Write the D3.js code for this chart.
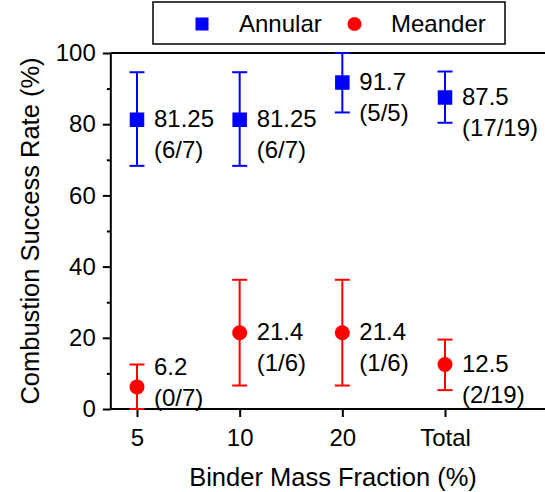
<!DOCTYPE html>
<html>
<head>
<meta charset="utf-8">
<script src="https://cdn.jsdelivr.net/npm/d3@7/dist/d3.min.js"></script>
<style>
  body { margin: 0; background: #fff; }
  text { font-family: "Liberation Sans", Arial, sans-serif; fill: #000; }
</style>
</head>
<body>
<div id="chart"></div>
<script>
// categories on the x axis
var categories = ["5", "10", "20", "Total"];

// annular series: rate, error bar ends, counts
var annularRate = [81.25, 81.25, 91.7, 87.5];
var annularLow = [68.3, 68.3, 83.3, 80.4];
var annularHigh = [94.6, 94.6, 100, 94.8];
var annularCounts = ["(6/7)", "(6/7)", "(5/5)", "(17/19)"];

// meander series
var meanderRate = [6.2, 21.4, 21.4, 12.5];
var meanderLow = [0, 6.6, 6.6, 5.3];
var meanderHigh = [12.5, 36.3, 36.3, 19.5];
var meanderCounts = ["(0/7)", "(1/6)", "(1/6)", "(2/19)"];

var yTicks = [0, 20, 40, 60, 80, 100];
var yMinor = [10, 30, 50, 70, 90];

var width = 545, height = 492;
var blue = "#0000ff", red = "#ff0000";
var small = "24px", big = "25.5px";

var svg = d3.select("#chart").append("svg")
  .attr("width", width)
  .attr("height", height);

// category index 1..4, axis runs on past the window on the right
var x0 = 0.745, x1 = 5.1;
var x = d3.scaleLinear().domain([1, 4]).range([137, 445]);
var y = d3.scaleLinear().domain([0, 100]).range([409, 53]);

// frame: top line
svg.append("line")
  .attr("x1", x(x0)).attr("x2", x(x1))
  .attr("y1", y(100)).attr("y2", y(100))
  .attr("stroke", "#000").attr("stroke-width", 2);

// y axis
var yAxis = svg.append("g")
  .attr("transform", "translate(" + x(x0) + ",0)")
  .call(d3.axisLeft(y).tickValues(yTicks).tickSize(8).tickPadding(7).tickFormat(d3.format("d")));
svg.append("g")
  .attr("transform", "translate(" + x(x0) + ",0)")
  .call(d3.axisLeft(y).tickValues(yMinor).tickSize(4).tickFormat(""))
  .select(".domain").remove();

// x axis
var xAxis = svg.append("g")
  .attr("transform", "translate(0," + y(0) + ")")
  .call(d3.axisBottom(x).tickValues([1, 2, 3, 4]).tickSize(8).tickPadding(12)
    .tickFormat(function(d) { return categories[d - 1]; }));

svg.selectAll(".tick line").attr("stroke-width", 2);
svg.selectAll(".domain").attr("stroke-width", 2);
yAxis.select(".domain").attr("d", "M0," + y(0) + "V" + y(100));
xAxis.select(".domain").attr("d", "M" + x(x0) + ",0H" + x(x1));
svg.selectAll(".tick text").style("font-size", small).attr("font-family", null);

// axis titles
svg.append("text")
  .attr("x", 333).attr("y", 486)
  .attr("text-anchor", "middle")
  .style("font-size", big)
  .text("Binder Mass Fraction (%)");

svg.append("text")
  .attr("transform", "translate(39," + ((y(0) + y(100)) / 2) + ") rotate(-90)")
  .attr("text-anchor", "middle")
  .style("font-size", big)
  .text("Combustion Success Rate (%)");

function drawSeries(rate, low, high, counts, color, shape, shift) {
  var g = svg.append("g");
  var pts = rate.map(function(v, i) {
    return {i: i + 1, v: v, lo: low[i], hi: high[i], c: counts[i], s: shift[i]};
  });
  // error bars
  var eb = g.selectAll("g.err").data(pts).enter().append("g")
    .attr("stroke", color).attr("stroke-width", 2);
  eb.append("line")
    .attr("x1", function(d) { return x(d.i); }).attr("x2", function(d) { return x(d.i); })
    .attr("y1", function(d) { return y(d.lo); }).attr("y2", function(d) { return y(d.hi); });
  eb.append("line")
    .attr("x1", function(d) { return x(d.i) - 7.5; }).attr("x2", function(d) { return x(d.i) + 7.5; })
    .attr("y1", function(d) { return y(d.lo); }).attr("y2", function(d) { return y(d.lo); });
  eb.append("line")
    .attr("x1", function(d) { return x(d.i) - 7.5; }).attr("x2", function(d) { return x(d.i) + 7.5; })
    .attr("y1", function(d) { return y(d.hi); }).attr("y2", function(d) { return y(d.hi); });
  // markers
  if (shape === "square") {
    g.selectAll("rect").data(pts).enter().append("rect")
      .attr("x", function(d) { return x(d.i) - 7.25; })
      .attr("y", function(d) { return y(d.v) - 7.25; })
      .attr("width", 14.5).attr("height", 14.5)
      .attr("fill", color);
  } else {
    g.selectAll("circle").data(pts).enter().append("circle")
      .attr("cx", function(d) { return x(d.i); })
      .attr("cy", function(d) { return y(d.v); })
      .attr("r", 7.5)
      .attr("fill", color);
  }
  // value labels
  var t = g.selectAll("text").data(pts).enter().append("text")
    .attr("x", function(d) { return x(d.i) + 17; })
    .attr("y", function(d) { return y(d.v) + 7.6 + d.s; })
    .style("font-size", small);
  t.append("tspan").text(function(d) { return d.v; });
  t.append("tspan")
    .attr("x", function(d) { return x(d.i) + 17; })
    .attr("dy", 31)
    .text(function(d) { return d.c; });
}

drawSeries(annularRate, annularLow, annularHigh, annularCounts, blue, "square", [0, 0, 0, 0]);
drawSeries(meanderRate, meanderLow, meanderHigh, meanderCounts, red, "circle", [-19.5, 0, 0, 0]);

// legend
var legend = svg.append("g");
legend.append("rect")
  .attr("x", 153).attr("y", 2).attr("width", 352).attr("height", 42)
  .attr("fill", "#fff").attr("stroke", "#000").attr("stroke-width", 1.5);
legend.append("rect")
  .attr("x", 195.5).attr("y", 17.5).attr("width", 13).attr("height", 13)
  .attr("fill", blue);
legend.append("text").attr("x", 239).attr("y", 32).style("font-size", small).text("Annular");
legend.append("circle")
  .attr("cx", 354.5).attr("cy", 24).attr("r", 7)
  .attr("fill", red);
legend.append("text").attr("x", 391).attr("y", 32).style("font-size", small).text("Meander");
</script>
</body>
</html>
